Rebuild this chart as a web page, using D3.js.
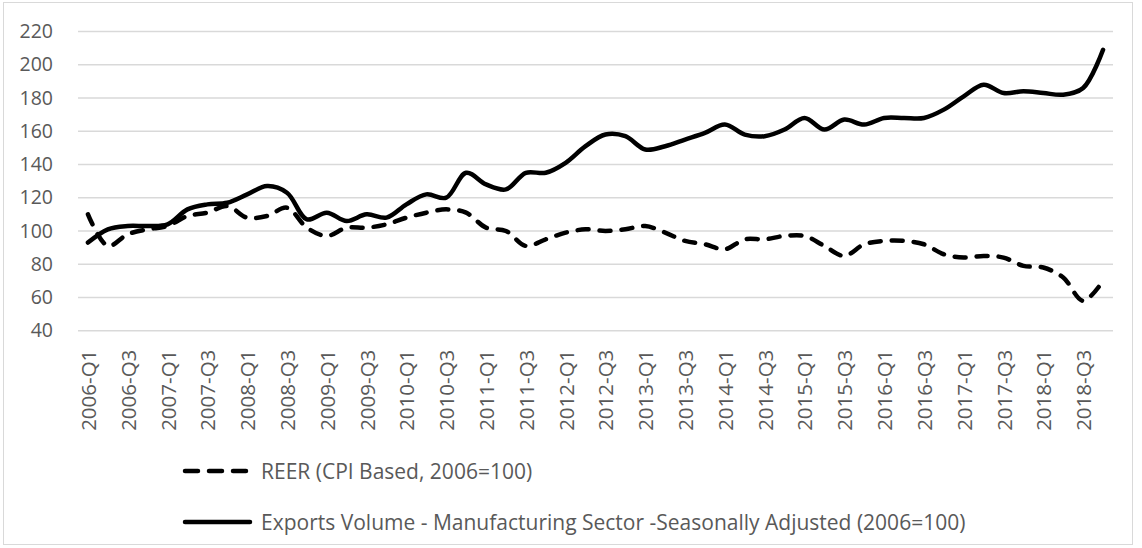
<!DOCTYPE html>
<html>
<head>
<meta charset="utf-8">
<script src="https://cdn.jsdelivr.net/npm/d3@7"></script>
<style>
  html, body { margin: 0; padding: 0; background: #fff; }
  svg { display: block; }
  text { font-family: "Open Sans", "Noto Sans", sans-serif; fill: #595959; }
</style>
</head>
<body>
<svg id="chart" width="1142" height="548"></svg>
<script>
// ---- data ----
const years = [2006, 2007, 2008, 2009, 2010, 2011, 2012, 2013, 2014, 2015, 2016, 2017, 2018];
const quarters = ["Q1", "Q2", "Q3", "Q4"];
const categories = years.flatMap(y => quarters.map(q => y + "-" + q));

const reer = [110, 91, 98, 101, 103, 109, 111, 115, 108, 109, 114, 102,
              97, 102, 102, 104, 108, 111, 113, 111, 102, 100, 91, 95,
              99, 101, 100, 101, 103, 99, 94, 92, 89, 95, 95, 97,
              97, 91, 85, 92, 94, 94, 92, 86, 84, 85, 84, 79,
              78, 72, 58, 70];

const exportsVol = [93, 101, 103, 103, 104, 113, 116, 117, 122, 127, 123, 107,
                    111, 106, 110, 108, 116, 122, 120, 135, 128, 125, 135, 135,
                    141, 151, 158, 157, 149, 151, 155, 159, 164, 158, 157, 161,
                    168, 161, 167, 164, 168, 168, 168, 173, 181, 188, 183, 184,
                    183, 182, 186, 209];

const yTicks = [40, 60, 80, 100, 120, 140, 160, 180, 200, 220];
const xTickLabels = categories.filter(c => c.endsWith("Q1") || c.endsWith("Q3"));

const seriesNames = ["REER (CPI Based, 2006=100)",
                     "Exports Volume - Manufacturing Sector -Seasonally Adjusted (2006=100)"];

// ---- layout ----
const svg = d3.select("#chart");
const plot = { left: 78, right: 1113, top: 31.5, bottom: 330.7 };

svg.append("rect")
  .attr("x", 3.5).attr("y", 2.5).attr("width", 1129).attr("height", 542)
  .attr("fill", "#fff").attr("stroke", "#d9d9d9").attr("stroke-width", 1);

const x = d3.scaleBand().domain(categories).range([plot.left, plot.right]).padding(0);
const y = d3.scaleLinear().domain([40, 220]).range([plot.bottom, plot.top]);
const cx = c => x(c) + x.bandwidth() / 2;

// gridlines
svg.append("g").selectAll("line").data(yTicks).join("line")
  .attr("x1", plot.left).attr("x2", plot.right)
  .attr("y1", d => y(d)).attr("y2", d => y(d))
  .attr("stroke", "#d9d9d9").attr("stroke-width", 1.5);

// y axis labels
const yAxis = d3.axisLeft(y).tickValues(yTicks).tickSize(0).tickPadding(0);
const yg = svg.append("g").attr("transform", `translate(53,0)`).call(yAxis);
yg.select(".domain").remove();
yg.selectAll("text").attr("font-size", 19.5).attr("fill", "#595959")
  .attr("font-family", '"Open Sans", sans-serif');

// x axis labels
const xAxis = d3.axisBottom(x).tickValues(xTickLabels).tickSize(0).tickPadding(0);
const xg = svg.append("g").attr("transform", `translate(0,${plot.bottom})`).call(xAxis);
xg.select(".domain").remove();
xg.selectAll("text")
  .attr("font-size", 20.5).attr("fill", "#595959")
  .attr("font-family", '"Open Sans", sans-serif')
  .attr("text-anchor", "end")
  .attr("dy", null)
  .attr("y", 0)
  .attr("transform", "translate(0,19) rotate(-90)")
  .attr("x", 0)
  .attr("dominant-baseline", "central");

// lines
const line = d3.line()
  .x((d, i) => cx(categories[i]))
  .y(d => y(d))
  .curve(d3.curveCatmullRom.alpha(0.5));

svg.append("path").datum(reer)
  .attr("d", line).attr("fill", "none").attr("stroke", "#000")
  .attr("stroke-width", 4.5).attr("stroke-dasharray", "11,11")
  .attr("stroke-linecap", "round").attr("stroke-linejoin", "round");

svg.append("path").datum(exportsVol)
  .attr("d", line).attr("fill", "none").attr("stroke", "#000")
  .attr("stroke-width", 4.5)
  .attr("stroke-linecap", "round").attr("stroke-linejoin", "round");

// legend
const legend = svg.append("g");
const legendRows = [
  { name: seriesNames[0], y: 471, dash: "13,11" },
  { name: seriesNames[1], y: 522, dash: null }
];
legendRows.forEach(r => {
  const l = legend.append("line")
    .attr("x1", 185).attr("x2", 250).attr("y1", r.y).attr("y2", r.y)
    .attr("stroke", "#000").attr("stroke-width", 4.5).attr("stroke-linecap", "round");
  if (r.dash) l.attr("stroke-dasharray", r.dash);
  legend.append("text")
    .attr("x", 261).attr("y", r.y)
    .attr("dominant-baseline", "central")
    .attr("font-size", 21)
    .text(r.name);
});
</script>
</body>
</html>
